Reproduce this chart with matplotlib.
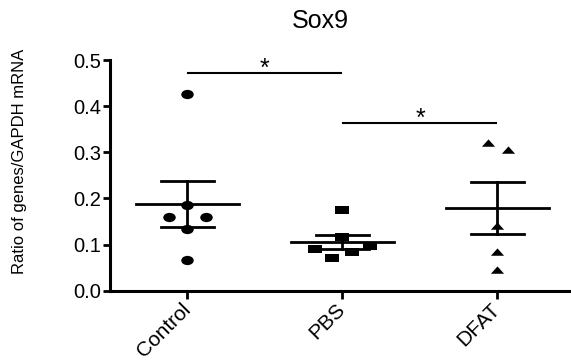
import matplotlib
matplotlib.use("Agg")
import matplotlib.pyplot as plt
from matplotlib.path import Path
from matplotlib.transforms import Affine2D
import numpy as np

plt.rcParams['font.family'] = ['Liberation Sans', 'DejaVu Sans']

categories = ["Control", "PBS", "DFAT"]
control_vals = [0.426, 0.185, 0.159, 0.159, 0.133, 0.067]
pbs_vals = [0.174, 0.117, 0.091, 0.070, 0.085, 0.098]
dfat_vals = [0.320, 0.305, 0.140, 0.085, 0.045]
yticks = [0.0, 0.1, 0.2, 0.3, 0.4, 0.5]
sig_pairs = [(0, 1, 0.471), (1, 2, 0.364)]

# horizontal scatter offsets (layout only)
control_off = [0.0, 0.0, -0.12, 0.12, 0.0, 0.0]
pbs_off = [0.0, 0.0, -0.18, -0.065, 0.06, 0.18]
dfat_off = [-0.06, 0.065, 0.0, 0.0, 0.0]

# slightly widened marker shapes (the reference is horizontally stretched)
stretch = Affine2D().scale(1.35, 1.0)
circle_m = stretch.transform_path(Path.unit_circle())
square_m = stretch.transform_path(Path([(-1, -0.72), (1, -0.72), (1, 0.72), (-1, 0.72), (-1, -0.72)],
                                       [Path.MOVETO, Path.LINETO, Path.LINETO, Path.LINETO, Path.CLOSEPOLY]))
tri_m = stretch.transform_path(Path([(-0.9, -0.6), (0.9, -0.6), (0, 0.75), (-0.9, -0.6)],
                                    [Path.MOVETO, Path.LINETO, Path.LINETO, Path.CLOSEPOLY]))

groups = [control_vals, pbs_vals, dfat_vals]
offsets = [control_off, pbs_off, dfat_off]
markers = [circle_m, square_m, tri_m]
msizes = [9, 9.5, 9.5]

fig = plt.figure(figsize=(5.71, 3.63), dpi=100)
ax = fig.add_axes([0.1926, 0.199, 0.8144, 0.6356])

for i, (vals, off, m, ms) in enumerate(zip(groups, offsets, markers, msizes)):
    v = np.array(vals)
    x = i + np.array(off)
    ax.plot(x, v, linestyle='none', marker=m, markersize=ms, color='black',
            markeredgewidth=0, zorder=3)
    mean = v.mean()
    sem = v.std(ddof=1) / np.sqrt(len(v))
    ax.plot([i - 0.333, i + 0.333], [mean, mean], color='black', lw=2, zorder=2)
    ax.plot([i, i], [mean - sem, mean + sem], color='black', lw=2, zorder=2)
    for y in (mean - sem, mean + sem):
        ax.plot([i - 0.173, i + 0.173], [y, y], color='black', lw=2, zorder=2)

for a, b, y in sig_pairs:
    ax.plot([a + 0.005, b - 0.01], [y, y], color='black', lw=1.5)
    ax.text((a + b) / 2, y - 0.006, "*", ha='center', va='baseline', fontsize=18)

ax.set_xlim(-0.5, 2.5)
ax.set_ylim(0, 0.5)
ax.set_yticks(yticks)
ax.set_yticklabels([f"{t:.1f}" for t in yticks], fontsize=14.5)
ax.set_xticks(range(len(categories)))
ax.set_xticklabels(categories, fontsize=15, rotation=45, ha='right',
                   rotation_mode='anchor', va='center')
ax.spines['top'].set_visible(False)
ax.spines['right'].set_visible(False)
for s in ('left', 'bottom'):
    ax.spines[s].set_linewidth(2.2)
ax.tick_params(axis='y', length=5, width=2, pad=1.5)
ax.tick_params(axis='x', length=5.5, width=2, pad=6)

fig.text(320 / 571, 0.923, "Sox9", ha='center', va='baseline', fontsize=18)
fig.text(0.035, 0.555, "Ratio of genes/GAPDH mRNA", rotation=90,
         ha='center', va='center', fontsize=12)

fig.savefig("out.png", dpi=100, facecolor='white')
